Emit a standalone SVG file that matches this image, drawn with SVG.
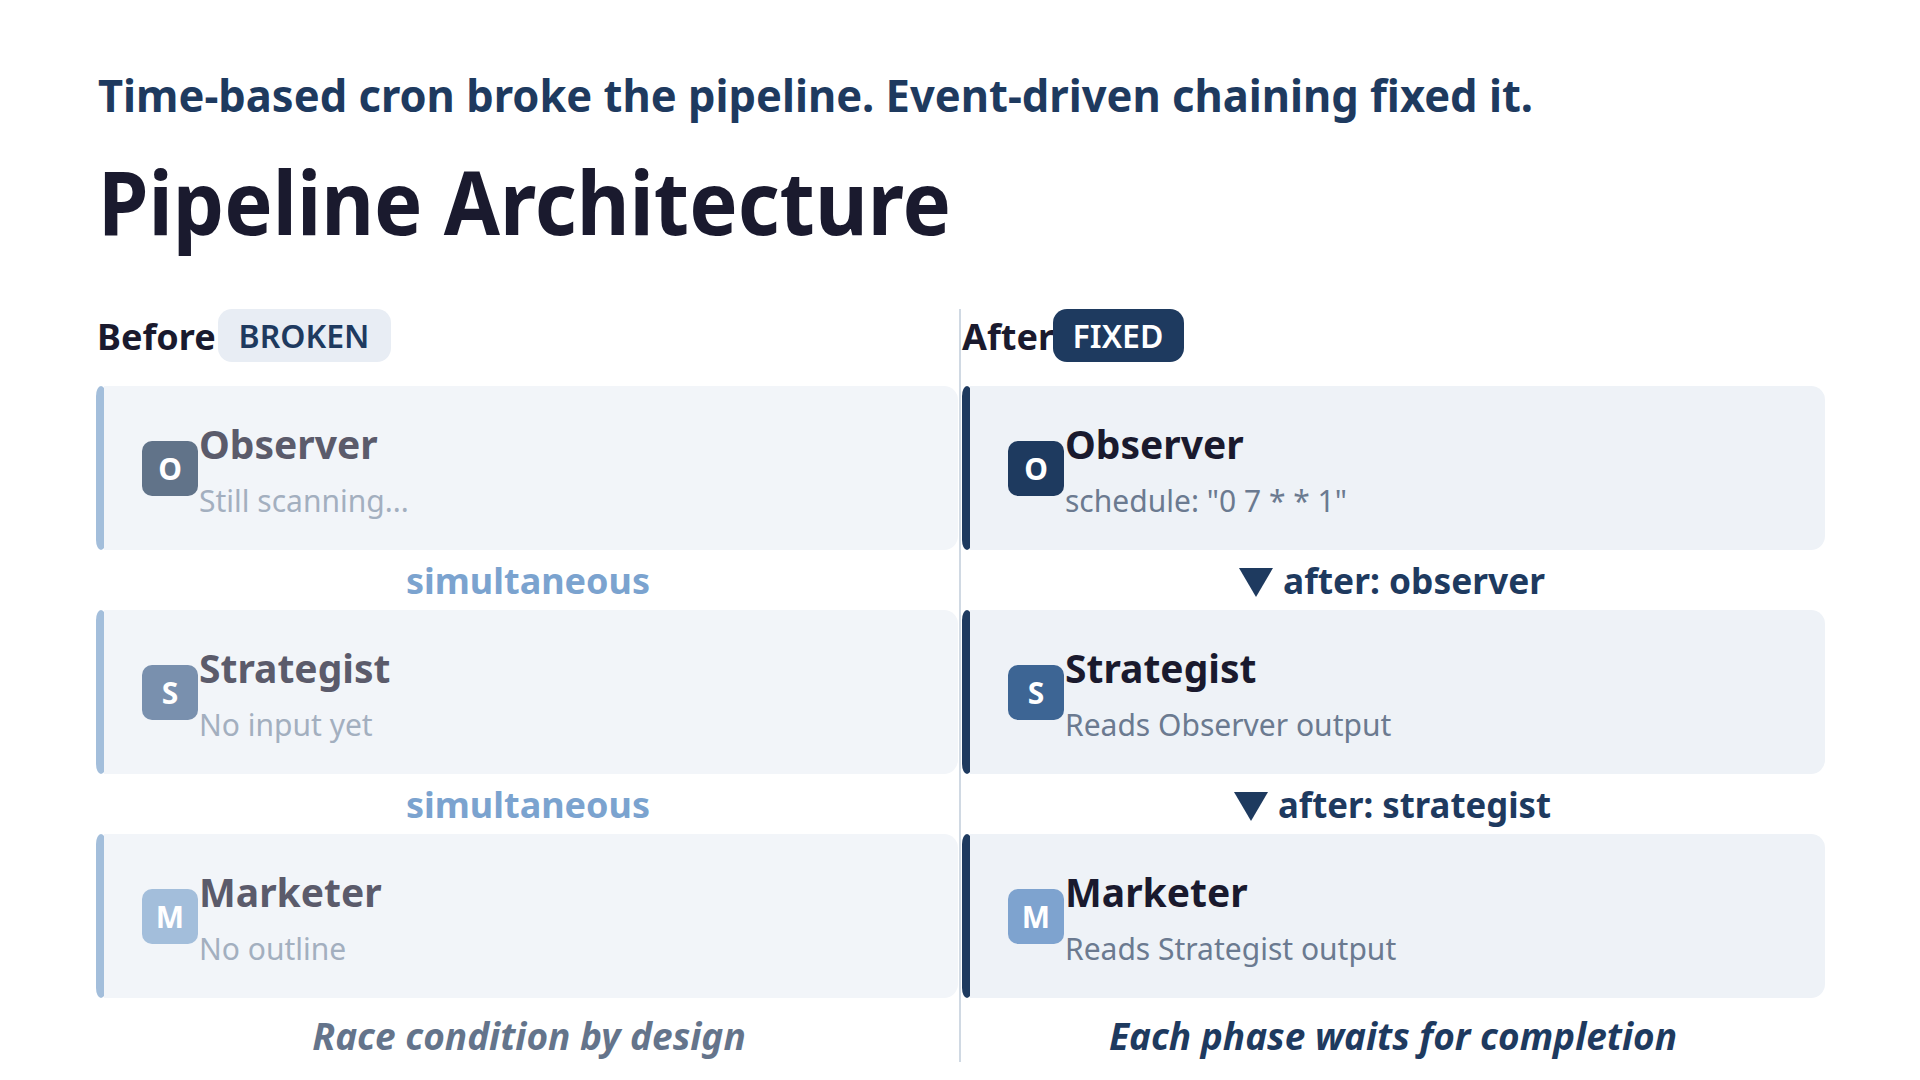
<svg xmlns="http://www.w3.org/2000/svg" width="1920" height="1080" viewBox="0 0 1920 1080">
<style>
text{font-family:"Source Sans Pro","Noto Sans","Liberation Sans",sans-serif}
.b{font-weight:700}
.cardL{fill:#f2f5f9}
.cardR{fill:#eef2f7}
.nameL{font-size:39px;font-weight:700;fill:#5b5b6b}
.nameR{font-size:39px;font-weight:700;fill:#1a1a2e}
.subL{font-size:30px;fill:#a3afbf}
.subR{font-size:30px;fill:#6b7a90}
.ic{font-size:30px;font-weight:700;fill:#fff;text-anchor:middle}
.sim{font-size:36px;font-weight:700;fill:#7ba3cf;text-anchor:middle}
.aft{font-size:36px;font-weight:700;fill:#1e3a5f}
.tri{fill:#1e3a5f}
</style>
<rect width="1920" height="1080" fill="#fff"/>
<text x="98" y="112" font-size="44" class="b" fill="#1e3a5f" textLength="1435" lengthAdjust="spacingAndGlyphs">Time-based cron broke the pipeline. Event-driven chaining fixed it.</text>
<text x="98" y="235" font-size="88" class="b" fill="#1a1a2e" textLength="853" lengthAdjust="spacingAndGlyphs">Pipeline Architecture</text>
<text x="97" y="350" font-size="36" class="b" fill="#1a1a2e">Before</text>
<rect x="218" y="309" width="173" height="53" rx="14" fill="#e8edf4"/>
<text x="304" y="348" font-size="32" font-weight="600" fill="#1e3a5f" text-anchor="middle">BROKEN</text>
<line x1="960" y1="309" x2="960" y2="1062" stroke="#d0d9e3" stroke-width="2"/>
<text x="962" y="350" font-size="36" class="b" fill="#1a1a2e">After</text>
<rect x="1053" y="309" width="131" height="53" rx="14" fill="#1e3a5f"/>
<text x="1118" y="348" font-size="32" font-weight="600" fill="#fff" text-anchor="middle">FIXED</text>
<g id="before-observer"><rect x="96" y="386" width="862" height="164" rx="14" class="cardL"/><rect x="96" y="386" width="10" height="164" rx="10" fill="#a3bedb"/><rect x="104" y="386" width="10" height="164" fill="#f2f5f9"/>
<rect x="142" y="441" width="56" height="55" rx="10" fill="#617389"/><text x="170" y="480" class="ic">O</text>
<text x="199" y="459" class="nameL">Observer</text><text x="199" y="512" class="subL">Still scanning...</text></g>
<g id="before-strategist"><rect x="96" y="610" width="862" height="164" rx="14" class="cardL"/><rect x="96" y="610" width="10" height="164" rx="10" fill="#a3bedb"/><rect x="104" y="610" width="10" height="164" fill="#f2f5f9"/>
<rect x="142" y="665" width="56" height="55" rx="10" fill="#7990ae"/><text x="170" y="704" class="ic">S</text>
<text x="199" y="683" class="nameL">Strategist</text><text x="199" y="736" class="subL">No input yet</text></g>
<g id="before-marketer"><rect x="96" y="834" width="862" height="164" rx="14" class="cardL"/><rect x="96" y="834" width="10" height="164" rx="10" fill="#a3bedb"/><rect x="104" y="834" width="10" height="164" fill="#f2f5f9"/>
<rect x="142" y="889" width="56" height="55" rx="10" fill="#a3bedb"/><text x="170" y="928" class="ic">M</text>
<text x="199" y="907" class="nameL">Marketer</text><text x="199" y="960" class="subL">No outline</text></g>
<g id="after-observer"><rect x="962" y="386" width="863" height="164" rx="14" class="cardR"/><rect x="962" y="386" width="10" height="164" rx="10" fill="#1e3a5f"/><rect x="970" y="386" width="10" height="164" fill="#eef2f7"/>
<rect x="1008" y="441" width="56" height="55" rx="10" fill="#1e3a5f"/><text x="1036" y="480" class="ic">O</text>
<text x="1065" y="459" class="nameR">Observer</text><text x="1065" y="512" class="subR">schedule: "0 7 * * 1"</text></g>
<g id="after-strategist"><rect x="962" y="610" width="863" height="164" rx="14" class="cardR"/><rect x="962" y="610" width="10" height="164" rx="10" fill="#1e3a5f"/><rect x="970" y="610" width="10" height="164" fill="#eef2f7"/>
<rect x="1008" y="665" width="56" height="55" rx="10" fill="#3d6594"/><text x="1036" y="704" class="ic">S</text>
<text x="1065" y="683" class="nameR">Strategist</text><text x="1065" y="736" class="subR">Reads Observer output</text></g>
<g id="after-marketer"><rect x="962" y="834" width="863" height="164" rx="14" class="cardR"/><rect x="962" y="834" width="10" height="164" rx="10" fill="#1e3a5f"/><rect x="970" y="834" width="10" height="164" fill="#eef2f7"/>
<rect x="1008" y="889" width="56" height="55" rx="10" fill="#7ea3cf"/><text x="1036" y="928" class="ic">M</text>
<text x="1065" y="907" class="nameR">Marketer</text><text x="1065" y="960" class="subR">Reads Strategist output</text></g>
<g id="connectors">
<text x="528" y="594" class="sim">simultaneous</text>
<text x="528" y="818" class="sim">simultaneous</text>
<path class="tri" d="M1239 568 H1273 L1256 597 Z"/>
<text x="1283" y="594" class="aft" textLength="262" lengthAdjust="spacingAndGlyphs">after: observer</text>
<path class="tri" d="M1234 792 H1268 L1251 821 Z"/>
<text x="1278" y="818" class="aft" textLength="273" lengthAdjust="spacingAndGlyphs">after: strategist</text>
</g>
<text x="529" y="1050" font-size="37" font-weight="700" font-style="italic" fill="#64748b" text-anchor="middle">Race condition by design</text>
<text x="1393" y="1050" font-size="37" font-weight="700" font-style="italic" fill="#1e3a5f" text-anchor="middle">Each phase waits for completion</text>
</svg>
